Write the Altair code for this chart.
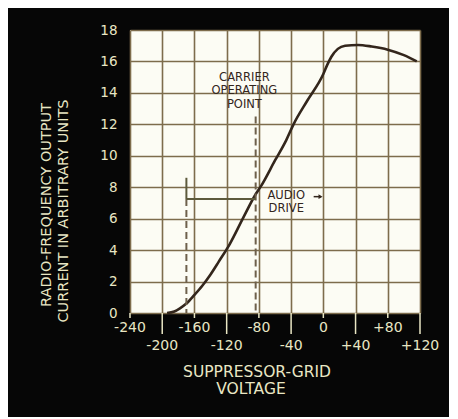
import altair as alt
import pandas as pd

# ---- data ----
volts = [-194, -185, -178, -170, -160, -150, -140, -130, -116, -100, -84, -77,
         -60, -46, -37, -20, 0, 5, 10, 18, 27, 43, 60, 80, 100, 116]
output = [0.0, 0.1, 0.3, 0.6, 1.15, 1.75, 2.45, 3.25, 4.4, 6.0, 7.55, 8.1,
          9.7, 11.0, 12.0, 13.5, 15.2, 15.8, 16.3, 16.8, 17.0, 17.05, 16.95,
          16.75, 16.4, 16.0]

x_grid = [-240, -200, -160, -120, -80, -40, 0, 40, 80, 120]
y_ticks = [0, 2, 4, 6, 8, 10, 12, 14, 16, 18]
x_row1 = [-240, -160, -80, 0, 80]
x_row1_labels = ["-240", "-160", "-80", "0", "+80"]
x_row2 = [-200, -120, -40, 40, 120]
x_row2_labels = ["-200", "-120", "-40", "+40", "+120"]

carrier_v = -84
carrier_top = 12.5
drive_left_v = -170
drive_level = 7.25
drive_right_level = 7.4

x_title = ["SUPPRESSOR-GRID", "VOLTAGE"]
y_title = ["RADIO-FREQUENCY OUTPUT", "CURRENT IN ARBITRARY UNITS"]
carrier_text = ["CARRIER", "OPERATING", "POINT"]
audio_text = ["AUDIO", "DRIVE"]

# ---- styling ----
BG = "#060606"
PAPER = "#fcfcf4"
GRID = "#7d6c4c"
CREAM = "#e9e6c4"
INK = "#33261c"
FONT = "DejaVu Sans"

W, H = 290, 283
xs = alt.Scale(domain=[-240, 120], nice=False, zero=False)
ys = alt.Scale(domain=[0, 18], nice=False, zero=False)
XAX = alt.Axis(values=x_grid, labels=False, ticks=False, domain=False,
               grid=True, gridColor=GRID, gridWidth=1.6, gridOpacity=1, title=None)
YAX = alt.Axis(values=y_ticks, labelColor=CREAM, labelFont=FONT, labelFontSize=13.5,
               labelPadding=13, labelOverlap=False, ticks=False, domain=False, grid=True,
               gridColor=GRID, gridWidth=1.6, gridOpacity=1, title=None)


def X(f="x:Q"):
    return alt.X(f, scale=xs, axis=XAX)


def Y(f="y:Q"):
    return alt.Y(f, scale=ys, axis=YAX)


curve_df = pd.DataFrame({"x": volts, "y": output})
base = alt.Chart(curve_df).mark_line(color=INK, strokeWidth=2.6, interpolate="monotone").encode(
    x=X(), y=Y())

# carrier operating point dashed line
carrier_df = pd.DataFrame({"x": [carrier_v], "y": [carrier_top], "y2": [0]})
carrier_line = alt.Chart(carrier_df).mark_rule(color="#6e604c", strokeWidth=2, strokeDash=[7, 4]).encode(
    x=X(), y=Y(), y2="y2:Q")

# left audio-drive limit: solid bar plus dashed line
left_bar_df = pd.DataFrame({"x": [drive_left_v], "y": [8.6], "y2": [drive_level]})
left_bar = alt.Chart(left_bar_df).mark_rule(color="#5d5a3c", strokeWidth=2).encode(
    x=X(), y=Y(), y2="y2:Q")
left_dash_df = pd.DataFrame({"x": [drive_left_v], "y": [drive_level], "y2": [0]})
left_dash = alt.Chart(left_dash_df).mark_rule(color="#6e604c", strokeWidth=2, strokeDash=[7, 4]).encode(
    x=X(), y=Y(), y2="y2:Q")

# horizontal audio drive lines
hl_df = pd.DataFrame({"x": [drive_left_v], "x2": [carrier_v], "y": [drive_level]})
hline = alt.Chart(hl_df).mark_rule(color="#5d5a3c", strokeWidth=1.8).encode(
    x=X(), x2="x2:Q", y=Y())
hr_df = pd.DataFrame({"x": [-12], "x2": [-3], "y": [drive_right_level]})
hline_r = alt.Chart(hr_df).mark_rule(color=INK, strokeWidth=1.5).encode(
    x=X(), x2="x2:Q", y=Y())
arrow_df = pd.DataFrame({"x": [-3.5], "y": [drive_right_level]})
arrow = alt.Chart(arrow_df).mark_point(shape="triangle-right", filled=True, color=INK,
                                       size=22, opacity=1).encode(x=X(), y=Y())

# annotation text
carrier_df_t = pd.DataFrame({"x": [-98] * 3, "y": [14.95, 14.09, 13.23], "t": carrier_text})
carrier_t = alt.Chart(carrier_df_t).mark_text(font=FONT, fontSize=11.5, color=INK,
                                                baseline="middle", align="center").encode(
    x=X(), y=Y(), text="t:N")
audio_df_t = pd.DataFrame({"x": [-46] * 2, "y": [7.45, 6.59], "t": audio_text})
audio_t = alt.Chart(audio_df_t).mark_text(font=FONT, fontSize=11.5, color=INK,
                                            baseline="middle", align="center").encode(
    x=X(), y=Y(), text="t:N")

# x ticks below the axis
r1_df = pd.DataFrame({"x": x_row1, "t": x_row1_labels})
r2_df = pd.DataFrame({"x": x_row2, "t": x_row2_labels})
tick1 = alt.Chart(r1_df).mark_rule(color=CREAM, strokeWidth=1.5).encode(
    x=X(), y=alt.value(H), y2=alt.value(H + 5))
tick2 = alt.Chart(r2_df).mark_rule(color=CREAM, strokeWidth=1.5).encode(
    x=X(), y=alt.value(H), y2=alt.value(H + 21))
lab1 = alt.Chart(r1_df).mark_text(font=FONT, fontSize=14, color=CREAM, baseline="middle",
                                   align="center").encode(x=X(), y=alt.value(H + 15), text="t:N")
lab2 = alt.Chart(r2_df).mark_text(font=FONT, fontSize=14, color=CREAM, baseline="middle",
                                   align="center").encode(x=X(), y=alt.value(H + 33), text="t:N")

# axis titles
xt_df = pd.DataFrame({"t": x_title, "px": [127, 121], "py": [H + 59, H + 76]})
xt = alt.Chart(xt_df).mark_text(font=FONT, fontSize=15.5, color=CREAM, baseline="middle",
                                 align="center").encode(
    x=alt.X("px:Q", scale=None), y=alt.Y("py:Q", scale=None), text="t:N")
yt_df = pd.DataFrame({"t": y_title, "px": [-83, -66], "py": [175, 181]})
yt = alt.Chart(yt_df).mark_text(font=FONT, fontSize=14.5, color=CREAM, baseline="middle",
                                 align="center", angle=270).encode(
    x=alt.X("px:Q", scale=None), y=alt.Y("py:Q", scale=None), text="t:N")

chart = alt.layer(
    base, carrier_line, left_dash, left_bar, hline, hline_r, arrow,
    carrier_t, audio_t, tick1, tick2, lab1, lab2, xt, yt
).properties(
    width=W, height=H,
    autosize=alt.AutoSizeParams(type="none"),
    padding={"left": 122, "top": 22, "right": 29, "bottom": 104},
    background=BG,
).configure_view(fill=PAPER, stroke=None)

chart.save("out.html", embed_options={"renderer": "svg", "actions": False})
